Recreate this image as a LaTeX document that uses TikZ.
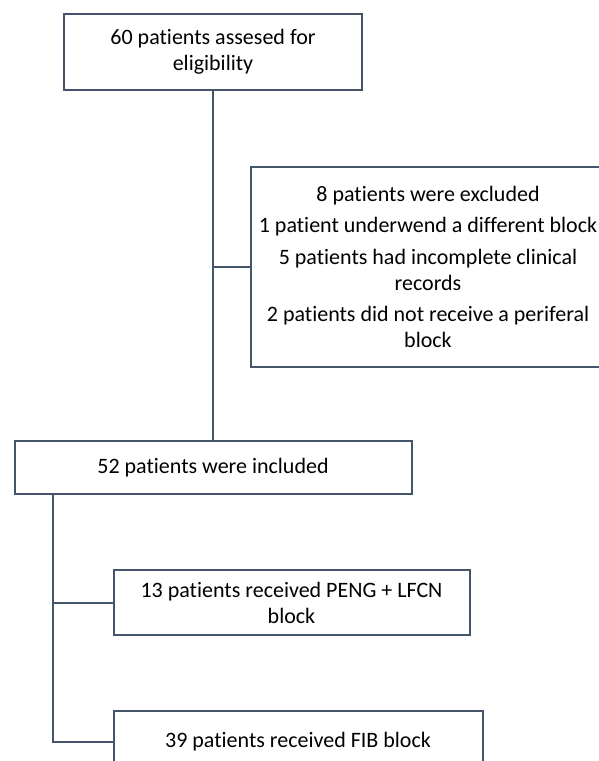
\documentclass[tikz,border=0pt]{standalone}
\usepackage{fontspec}
\setmainfont{Carlito}[Ligatures=NoCommon]
\usepackage{xcolor}
\definecolor{frame}{HTML}{44546A}
\usepackage{tikz}
\usetikzlibrary{positioning,calc}

\begin{document}
\begin{tikzpicture}[
  x=1pt, y=-1pt,
  font=\fontsize{22}{26}\selectfont,
  box/.style={draw=frame, line width=2pt, align=center, inner sep=0pt, fill=white},
  link/.style={draw=frame, line width=2pt},
]
\clip (0,0) rectangle (599,761);

% --- main column -----------------------------------------------------------
\node[box, minimum width=298pt, minimum height=76pt] (eligible) at (213,52) {60 patients assesed for\\eligibility};
\node[box, minimum width=397pt, minimum height=53pt, below=349pt of eligible.south, anchor=north] (included) {52 patients were included};

% --- exclusions, right of the trunk ----------------------------------------
\node[box, minimum width=354pt, minimum height=200pt, below right=75pt and 37pt of eligible.south, anchor=north west] (excluded) {8 patients were excluded\\[5.5pt]
  1 patient underwend a different block\\[5.5pt]
  5 patients had incomplete clinical\\records\\[5.5pt]
  2 patients did not receive a periferal\\block};

% --- the two groups ---------------------------------------------------------
\node[box, minimum width=356pt, minimum height=65pt, below right=74pt and 99pt of included.south west, anchor=north west] (peng) {13 patients received PENG + LFCN\\block};
\node[box, minimum width=369pt, minimum height=62pt, below=74pt of peng.south west, anchor=north west] (fib) {39 patients received FIB block};

% --- connectors -------------------------------------------------------------
\coordinate (trunk) at ([xshift=39pt]included.south west);
\draw[link] (eligible.south) -- (included.north);
\draw[link] (excluded.west) -- (excluded.west -| eligible.south);
\draw[link] (trunk) |- (peng.west);
\draw[link] (trunk) |- (fib.west);
\end{tikzpicture}
\end{document}
